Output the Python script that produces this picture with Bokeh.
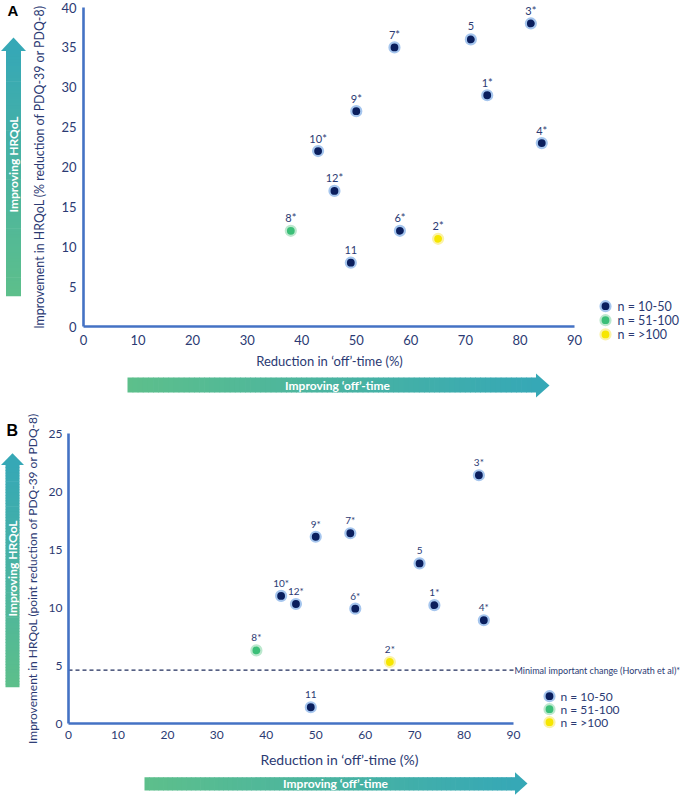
import math
from bokeh.plotting import figure
from bokeh.models import Range1d, Label, FixedTicker
from bokeh.layouts import column, row
from bokeh.embed import file_html
from bokeh.resources import INLINE
from bokeh.core.properties import value

FONT = "Lato"
TXT = "#2B3A73"
AXIS_BLUE = "#4472C4"
GREEN_END = "#5DBF8B"
TEAL_END = "#36A8B6"

# ---------------- data ----------------
study_labels = ["1*", "2*", "3*", "4*", "5", "6*", "7*", "8*", "9*", "10*", "11", "12*"]
sample_group = ["n = 10-50", "n = >100", "n = 10-50", "n = 10-50", "n = 10-50", "n = 10-50",
                "n = 10-50", "n = 51-100", "n = 10-50", "n = 10-50", "n = 10-50", "n = 10-50"]
groups = ["n = 10-50", "n = 51-100", "n = >100"]
group_fill = {"n = 10-50": "#0B1F5E", "n = 51-100": "#3BBF78", "n = >100": "#F6E600"}
group_glow = {"n = 10-50": "#A6C6EE", "n = 51-100": "#BCE8CE", "n = >100": "#FBF2A6"}

off_reduction_a = [74, 65, 82, 84, 71, 58, 57, 38, 50, 43, 49, 46]
hrqol_pct_reduction = [29, 11, 38, 23, 36, 12, 35, 12, 27, 22, 8, 17]
off_reduction_b = [74, 65, 83, 84, 71, 58, 57, 38, 50, 43, 49, 46]
hrqol_point_reduction = [10.2, 5.3, 21.4, 8.9, 13.8, 9.9, 16.4, 6.3, 16.1, 11.0, 1.4, 10.3]
mic_threshold = 4.6

x_max = 90
x_ticks = [0, 10, 20, 30, 40, 50, 60, 70, 80, 90]
y_max_a = 40
y_ticks_a = [0, 5, 10, 15, 20, 25, 30, 35, 40]
y_max_b = 25
y_ticks_b = [0, 5, 10, 15, 20, 25]

x_label = "Reduction in \u2018off\u2019-time (%)"
y_label_a = "Improvement in HRQoL (% reduction of PDQ-39 or PDQ-8)"
y_label_b = "Improvement in HRQoL (point reduction of PDQ-39 or PDQ-8)"
arrow_x_text = "Improving \u2018off\u2019-time"
arrow_y_text = "Improving HRQoL"
mic_text = "Minimal important change (Horvath et al)*"


def lerp(c0, c1, t):
    a = [int(c0[i:i + 2], 16) for i in (1, 3, 5)]
    b = [int(c1[i:i + 2], 16) for i in (1, 3, 5)]
    return "#%02x%02x%02x" % tuple(round(a[k] + (b[k] - a[k]) * t) for k in range(3))


def blank(w, h):
    p = figure(width=w, height=h, x_range=Range1d(0, w), y_range=Range1d(0, h),
               x_axis_type=None, y_axis_type=None, output_backend="svg",
               toolbar_location=None, min_border=0)
    p.grid.visible = False
    p.outline_line_color = None
    p.background_fill_color = "white"
    p.border_fill_color = "white"
    return p


def h_arrow(p, H, x0, x1, tip, yt, yb, ht, hb, text, tx):
    n = 80
    w = (x1 - x0) / n
    lefts = [x0 + i * w for i in range(n)]
    rights = [l + w + 0.7 for l in lefts]
    cols = [lerp(GREEN_END, TEAL_END, (i + 0.5) / n) for i in range(n)]
    p.quad(left=lefts, right=rights, top=[H - yt] * n, bottom=[H - yb] * n,
           fill_color=cols, line_color=None)
    p.patch([x1 - 0.5, x1 - 0.5, tip], [H - ht, H - hb, H - (ht + hb) / 2],
            fill_color=TEAL_END, line_color=None)
    p.text(x=[tx], y=[H - (yt + yb) / 2], text=[text], text_align="center",
           text_baseline="middle", text_color="white", text_font=value(FONT),
           text_font_style="bold", text_font_size="12px")


def v_arrow(p, H, xl, xr, hl, hr, tip, base, bottom, text, ty):
    n = 80
    hgt = (bottom - base) / n
    tops = [base + i * hgt for i in range(n)]
    cols = [lerp(TEAL_END, GREEN_END, (i + 0.5) / n) for i in range(n)]
    p.quad(left=[xl] * n, right=[xr] * n, top=[H - t for t in tops],
           bottom=[H - (t + hgt + 0.7) for t in tops], fill_color=cols, line_color=None)
    p.patch([hl, hr, (hl + hr) / 2], [H - base - 0.5, H - base - 0.5, H - tip],
            fill_color=TEAL_END, line_color=None)
    p.text(x=[(xl + xr) / 2], y=[H - ty], text=[text], angle=math.pi / 2,
           text_align="center", text_baseline="middle", text_color="white",
           text_font=value(FONT), text_font_style="bold", text_font_size="12px")


def main_panel(xs, ys, ymax, yticks, ylabel, w, h, ox, oy, data_w, data_h,
               tick_fs, ylab_fs, xstand, ystand, ylab_stand, pt_fs,
               leg_cx, leg_rows, leg_text_dx, leg_fs):
    # the frame covers the whole figure; the data origin sits ox px from the left
    # and oy px from the top, and 0..x_max / 0..ymax span data_w / data_h pixels
    sx = data_w / x_max
    sy = data_h / ymax
    p = figure(width=w, height=h,
               x_range=Range1d(-ox / sx, (w - ox) / sx),
               y_range=Range1d(-(h - oy) / sy, oy / sy),
               output_backend="svg", toolbar_location=None, min_border=0)
    p.grid.visible = False
    p.outline_line_color = None
    p.background_fill_color = "white"
    p.border_fill_color = "white"
    for ax in (p.xaxis[0], p.yaxis[0]):
        ax.axis_line_color = AXIS_BLUE
        ax.axis_line_width = 2.6
        ax.major_tick_line_color = None
        ax.minor_tick_line_color = None
        ax.major_tick_out = 0
        ax.major_tick_in = 0
        ax.major_label_text_color = TXT
        ax.major_label_text_font = FONT
        ax.major_label_text_font_size = tick_fs
        ax.fixed_location = 0
    p.xaxis.ticker = FixedTicker(ticks=x_ticks)
    p.yaxis.ticker = FixedTicker(ticks=yticks)
    p.xaxis.bounds = (0, x_max)
    p.yaxis.bounds = (0, ymax)
    p.xaxis.major_label_standoff = xstand
    p.yaxis.major_label_standoff = ystand
    p.yaxis.axis_label = ylabel
    p.yaxis.axis_label_text_font = FONT
    p.yaxis.axis_label_text_font_style = "normal"
    p.yaxis.axis_label_text_font_size = ylab_fs
    p.yaxis.axis_label_text_color = TXT
    p.yaxis.axis_label_standoff = ylab_stand

    for g in groups:
        gx = [x for x, s in zip(xs, sample_group) if s == g]
        gy = [y for y, s in zip(ys, sample_group) if s == g]
        p.scatter(gx, gy, size=10, fill_color=group_fill[g], line_color=group_glow[g],
                  line_width=2.2)
    p.text(x=xs, y=ys, text=study_labels, text_align="center", text_baseline="middle",
           y_offset=-13, text_color=TXT, text_font=value(FONT), text_font_size=pt_fs)

    # legend (keys placed in pixel layout, converted to the plot's coordinates)
    lx = [(leg_cx - ox) / sx] * len(groups)
    ly = [(oy - r) / sy for r in leg_rows]
    p.scatter(lx, ly, size=10, fill_color=[group_fill[g] for g in groups],
              line_color=[group_glow[g] for g in groups], line_width=2.2)
    p.text(x=lx, y=ly, text=groups, x_offset=leg_text_dx, text_align="left",
           text_baseline="middle", text_color=TXT, text_font=value(FONT),
           text_font_size=leg_fs)
    return p


# ---------------- panel A ----------------
WA_V, HA = 26, 352
va = blank(WA_V, HA)
v_arrow(va, HA, 5.5, 20.5, 0.5, 25.5, 37, 50, 295, arrow_y_text, 164)
va.add_layout(Label(x=7, y=HA - 1, text="A", text_font="Liberation Sans",
                    text_font_style="bold", text_font_size="15px", text_color="black",
                    text_baseline="top", text_align="left"))

pa = main_panel(off_reduction_a, hrqol_pct_reduction, y_max_a, y_ticks_a, y_label_a,
                659, HA, 57, 326, 491, 319, "13px", "12.4px", 8, 7, 11, "11px",
                579, [305.7, 319.7, 333.9], 12, "12.5px")

HSA = 48
sa = blank(685, HSA)
sa.text(x=[329], y=[HSA - 8], text=[x_label], text_align="center", text_baseline="middle",
        text_color=TXT, text_font=value(FONT), text_font_size="13px")
h_arrow(sa, HSA, 127, 536, 549, 25, 40, 21, 45, arrow_x_text, 337)

# ---------------- panel B ----------------
WB_V, HB = 24, 345
vb = blank(WB_V, HB)
v_arrow(vb, HB, 5, 19, 0.5, 23.5, 52.7, 64, 286, arrow_y_text, 168)
vb.add_layout(Label(x=6, y=HB - 21, text="B", text_font="Liberation Sans",
                    text_font_style="bold", text_font_size="16px", text_color="black",
                    text_baseline="top", text_align="left"))

pb = main_panel(off_reduction_b, hrqol_point_reduction, y_max_b, y_ticks_b, y_label_b,
                661, HB, 44, 323, 445, 290, "12px", "12px", 7, 6, 6, "10px",
                525, [295.7, 308.7, 321.7], 11, "12px")
pb.line([0, x_max], [mic_threshold, mic_threshold], line_color="#1F2D5C",
        line_dash="4 3", line_width=1.2)
pb.add_layout(Label(x=x_max, y=mic_threshold, text=mic_text, x_offset=1,
                    text_baseline="middle", text_align="left", text_font=FONT,
                    text_font_size="9px", text_color=TXT))

HSB = 50
sb = blank(685, HSB)
sb.text(x=[339], y=[HSB - 14], text=[x_label], text_align="center", text_baseline="middle",
        text_color=TXT, text_font=value(FONT), text_font_size="14px")
h_arrow(sb, HSB, 144, 515, 527, 31.7, 45, 26.7, 49.3, arrow_x_text, 335)

layout = column(row(va, pa), sa, row(vb, pb), sb)

open("out.html", "w").write(file_html(layout, INLINE))
